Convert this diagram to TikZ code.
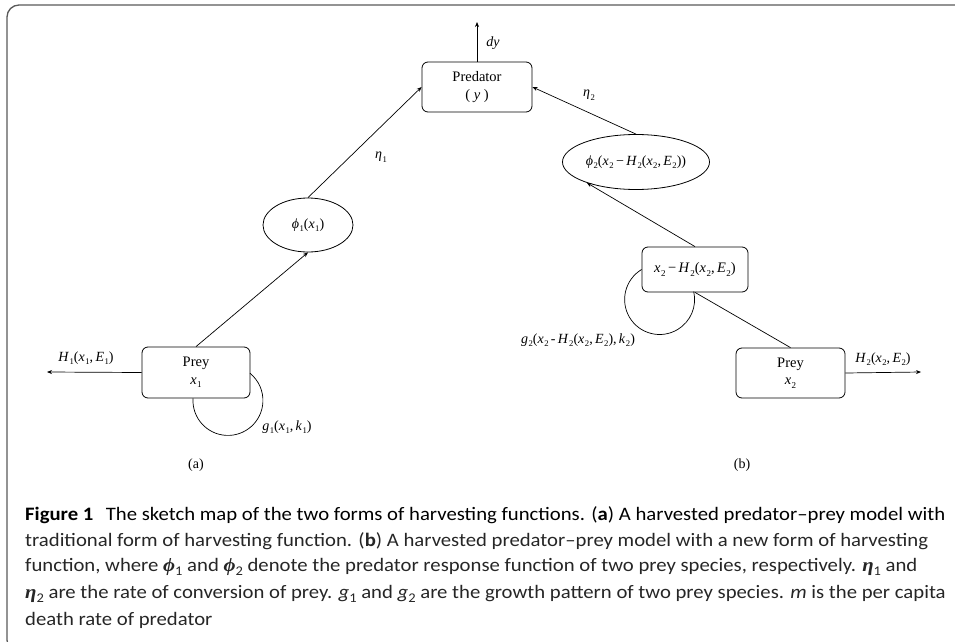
\documentclass[tikz,border=0pt]{standalone}
\usepackage{fontspec}
\usepackage{graphicx}
\setmainfont{Liberation Serif}
\newfontfamily\capfont{Carlito}
\newfontfamily\serif{Liberation Serif}
\usetikzlibrary{shapes.geometric,arrows.meta}
\newsavebox\capbox
\newcommand\capsize{\capfont\fontsize{19}{23}\selectfont}
% italic variable with subscript (diagram, Times-like)
\newcommand\vs[2]{\textit{#1}\kern0.5pt\raisebox{-0.25em}{\scalebox{0.62}{#2}}}
\newcommand\vv[1]{\textit{#1}}
% caption symbols
\newcommand\cg[2]{{\serif\bfseries\itshape #1}\raisebox{-0.2em}{\scalebox{0.7}{#2}}}
\newcommand\cs[2]{\textit{#1}\raisebox{-0.2em}{\scalebox{0.7}{#2}}}
\begin{document}
\makeatletter
\sbox\capbox{\capsize\textbf{Figure 1}\hspace{0.6em}The sketch map of the two forms of harvesting functions. (\textbf{a}) A harvested predator–prey model with}
\edef\capsx{\strip@pt\dimexpr 920pt*65536/\wd\capbox\relax}
\makeatother
\newcommand\capline[1]{\scalebox{\capsx}[1]{\capsize #1}}
\begin{tikzpicture}[x=1pt,y=-1pt,
  box/.style={draw,rounded corners=6pt,minimum width=110pt,minimum height=50pt,align=center,
    font=\fontsize{14.5}{17.5}\selectfont,line width=0.8pt,inner sep=1pt},
  ell/.style={draw,ellipse,inner sep=0pt,line width=0.8pt,font=\fontsize{14}{16}\selectfont},
  con/.style={line width=0.7pt},
  arr/.style={con,-{Stealth[length=5pt,width=4pt]}},
  lbl/.style={font=\fontsize{14}{16}\selectfont,inner sep=1pt},
  captext/.style={anchor=west,inner sep=0pt,text=black!85}
]
\useasboundingbox (0,0) rectangle (955,642);
% frame
\draw[line width=1.3pt,black!65,rounded corners=12pt] (40,652) -- (7,652) -- (7,5) -- (1000,5);

% nodes
\node[box] (pred) at (477,87) {Predator\\( \vv{y} )};
\node[ell,minimum width=90pt,minimum height=54pt] (phi1) at (308,225) {\vs{ϕ}{1}(\vs{x}{1})};
\node[ell,minimum width=147pt,minimum height=55pt] (phi2) at (636,162) {\vs{ϕ}{2}(\vs{x}{2}\,−\,\vs{H}{2}(\vs{x}{2},\,\vs{E}{2}))};
\node[box,minimum width=106pt,minimum height=45pt] (x2h) at (695,269.5) {\vs{x}{2}\,−\,\vs{H}{2}(\vs{x}{2},\,\vs{E}{2})};
\node[box,minimum width=108pt,minimum height=51pt] (prey1) at (196,372.5) {Prey\\\vs{x}{1}};
\node[box,minimum width=109pt,minimum height=50pt] (prey2) at (790.5,373) {Prey\\\vs{x}{2}};

\coordinate (dyend) at (477,22);
\coordinate (h1end) at (47,372);
\coordinate (h2end) at (921,372);

% connectors
\draw[arr] (pred.north) -- (dyend);
\draw[arr] (phi1.north) -- (pred.west);
\draw[arr] (phi2.north) -- (pred.east);
\draw[arr] (prey1.north) -- (phi1.south);
\draw[arr] (x2h.north) -- (phi2.203);
\draw[con] (x2h.south) -- (prey2.north);
\draw[arr] (prey1.west) -- (h1end);
\draw[arr] (prey2.east) -- (h2end);
\draw[con] ([xshift=-3pt]prey1.south) arc[start angle=183.3,end angle=-51,x radius=35,y radius=35];
\draw[con] (x2h.west) arc[start angle=239,end angle=-13.2,x radius=35,y radius=35];

% labels
\node[lbl] (ldy) at (493,43) {\vv{dy}};
\node[lbl] (leta1) at (381,157) {\vs{η}{1}};
\node[lbl] (leta2) at (589,95) {\vs{η}{2}};
\node[lbl] (lh1) at (86,358) {\vs{H}{1}(\vs{x}{1},\,\vs{E}{1})};
\node[lbl] (lh2) at (883,359) {\vs{H}{2}(\vs{x}{2},\,\vs{E}{2})};
\node[lbl] (lg1) at (287,427) {\vs{g}{1}(\vs{x}{1},\,\vs{k}{1})};
\node[lbl] (lg2) at (578,340) {\vs{g}{2}(\vs{x}{2}\,-\,\vs{H}{2}(\vs{x}{2},\,\vs{E}{2}),\,\vs{k}{2})};
\node[lbl] (la) at (196,465) {(a)};
\node[lbl] (lb) at (742,465) {(b)};

% caption
\node[captext] (c1) at (25,515) {\scalebox{\capsx}[1]{\usebox\capbox}};
\node[captext] (c2) at (25,541) {\capline{traditional form of harvesting function. (\textbf{b}) A harvested predator–prey model with a new form of harvesting}};
\node[captext] (c3) at (25,567) {\capline{function, where \cg{ϕ}{1} and \cg{ϕ}{2} denote the predator response function of two prey species, respectively. \cg{η}{1} and}};
\node[captext] (c4) at (25,594) {\capline{\cg{η}{2} are the rate of conversion of prey. \cs{g}{1} and \cs{g}{2} are the growth pattern of two prey species. \textit{m} is the per capita}};
\node[captext] (c5) at (25,620) {\capline{death rate of predator}};
\end{tikzpicture}
\end{document}
